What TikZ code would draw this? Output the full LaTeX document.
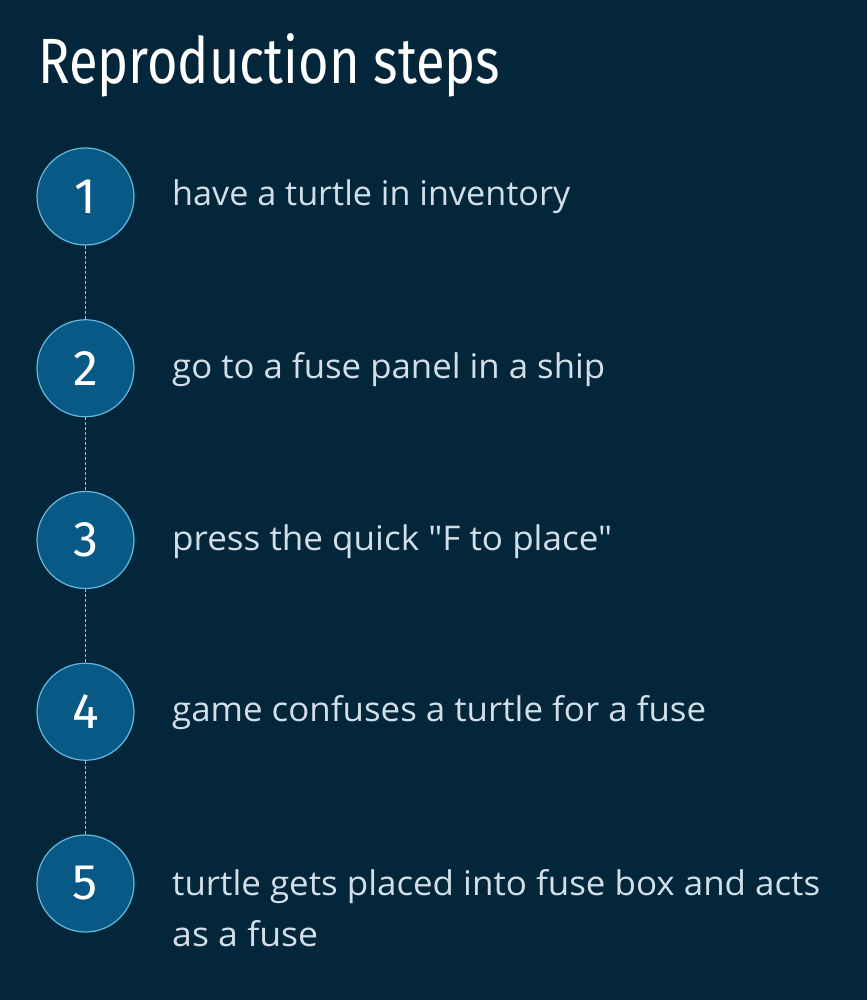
\documentclass[tikz,border=0pt]{standalone}
\usepackage{fontspec}
\usepackage{graphicx}
\setmainfont{Open Sans}
\newfontfamily\stepfont{Open Sans}[Ligatures=ResetAll]
\newfontfamily\titlefont{Fira Sans}
\definecolor{bgc}{HTML}{03263A}
\definecolor{circfill}{HTML}{085985}
\definecolor{circline}{HTML}{62BAE0}
\definecolor{txtc}{HTML}{D3DFE8}
\definecolor{dashc}{HTML}{9CC0D6}
\newlength\fitwlen
\newcommand\fitw[2]{\settowidth\fitwlen{#2}\scalebox{\fpeval{#1/\fitwlen}}[1]{#2}}
\tikzset{
  stepcircle/.style={circle, draw=circline, line width=1.2pt, fill=circfill,
    minimum size=97pt, inner sep=0pt, text=white,
    font=\titlefont\fontsize{50}{50}\selectfont},
  steptext/.style={anchor=base west, inner sep=0pt, text=txtc,
    font=\stepfont\fontsize{34}{34}\selectfont},
  conn/.style={draw=dashc, line width=1.2pt, dash pattern=on 3pt off 2pt}
}
\begin{document}
\begin{tikzpicture}[x=1pt,y=-1pt]
\fill[bgc] (0,0) rectangle (867,1000);
\useasboundingbox (0,0) rectangle (867,1000);
\node[anchor=base west, inner sep=0pt, text=white, font=\titlefont\fontsize{64}{64}\selectfont] (title) at (38,84) {\fitw{462pt}{Reproduction steps}};
\node[stepcircle] (c1) at (85.5,196.5) {1};
\node[stepcircle] (c2) at (85.5,368.25) {2};
\node[stepcircle] (c3) at (85.5,540) {3};
\node[stepcircle] (c4) at (85.5,711.75) {4};
\node[stepcircle] (c5) at (85.5,883.5) {5};
\draw[conn] (c1.south) -- (c2.north);
\draw[conn] (c2.south) -- (c3.north);
\draw[conn] (c3.south) -- (c4.north);
\draw[conn] (c4.south) -- (c5.north);
\node[steptext] (t1) at (172,206) {\fitw{398pt}{have a turtle in inventory}};
\node[steptext] (t2) at (172,378.5) {\fitw{433pt}{go to a fuse panel in a ship}};
\node[steptext] (t3) at (172,550) {\fitw{440pt}{press the quick "F to place"}};
\node[steptext] (t4) at (172,721.5) {\fitw{534pt}{game confuses a turtle for a fuse}};
\node[steptext] (t5a) at (172,895) {\fitw{648pt}{turtle gets placed into fuse box and acts}};
\node[steptext] (t5b) at (172,946) {\fitw{146pt}{as a fuse}};
\end{tikzpicture}
\end{document}
